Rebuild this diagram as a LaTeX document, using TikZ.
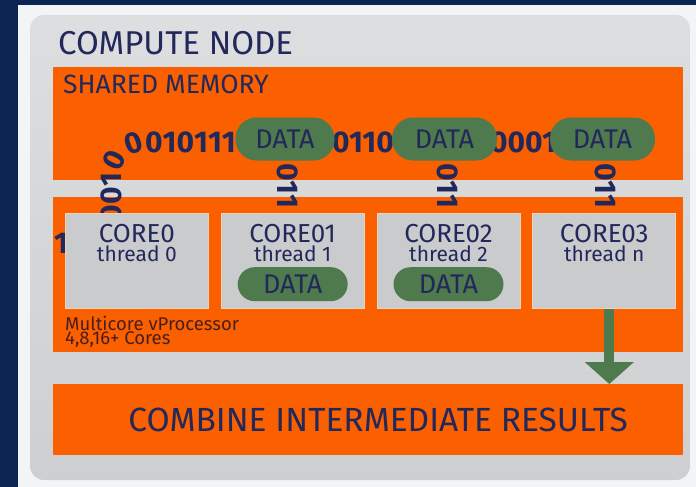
\documentclass[tikz,border=0pt]{standalone}
\usepackage{fontspec}
\setmainfont{Fira Sans}
\usetikzlibrary{positioning,arrows.meta,decorations.text}

\definecolor{navybg}{HTML}{0B2552}
\definecolor{paper}{HTML}{F3F4F6}
\definecolor{paneltop}{HTML}{DDDEE0}
\definecolor{panelbot}{HTML}{CDCFD1}
\definecolor{cnorange}{HTML}{FA6000}
\definecolor{coregray}{HTML}{CACBCD}
\definecolor{coreedge}{HTML}{EFD2BE}
\definecolor{pillgreen}{HTML}{4E7A4E}
\definecolor{ink}{HTML}{23285A}
\definecolor{brownink}{HTML}{4B1E1C}

\newcommand{\bitfont}{\bfseries\fontsize{30}{30}\selectfont}
\newcommand{\datafont}{\fontsize{27}{27}\selectfont}

\begin{document}
\begin{tikzpicture}[x=1pt,y=-1pt,
  orangebox/.style={fill=cnorange,draw=none,inner sep=0pt,anchor=north west},
  corebox/.style={fill=coregray,draw=coreedge,line width=0.8pt,inner sep=0pt,
    minimum width=143pt,minimum height=95pt},
  corename/.style={text=ink,inner sep=0pt,anchor=base,font=\fontsize{26}{26}\selectfont},
  threadname/.style={text=ink,inner sep=0pt,anchor=base,font=\fontsize{21}{21}\selectfont},
  datapill/.style={fill=pillgreen,rounded corners=17pt,inner sep=0pt,
    text=ink,font=\datafont},
  bits/.style={text=ink,font=\bitfont,inner sep=0pt},
  bitsdown/.style={bits,rotate=-90,anchor=west},
]
  \useasboundingbox (0,0) rectangle (696,487);
  \fill[navybg] (0,0) rectangle (696,487); %Background
  \fill[paper] (18,5) rectangle (696,487); %Page
  \shade[top color=paneltop,bottom color=panelbot,rounded corners=14pt]
    (30,15) rectangle (690,480); %Gray panel

  \node[text=ink,anchor=base west,inner sep=0pt,font=\fontsize{33}{33}\selectfont] (title) at (58,55) {COMPUTE NODE};

  % orange blocks
  \node[orangebox,minimum width=630pt,minimum height=113pt] (shared) at (53,67) {};
  \node[orangebox,minimum width=630pt,minimum height=155pt] (proc) at (53,197) {};
  \node[orangebox,minimum width=630pt,minimum height=71pt] (combine) at (53,384) {};

  \node[text=ink,anchor=base west,inner sep=0pt,font=\fontsize{26.5}{26.5}\selectfont] (sharedlabel) at (63,93) {SHARED MEMORY};
  \node[text=brownink,anchor=north west,align=left,inner sep=0pt,
    font=\fontsize{18.5}{14}\selectfont] (proclabel) at (65,316) {Multicore vProcessor\\4,8,16+ Cores};
  \node[text=ink,font=\fontsize{33.5}{33.5}\selectfont,xshift=10pt] (combinelabel) at (combine.center) {COMBINE INTERMEDIATE RESULTS};

  % bit stream
  \path[decorate,decoration={text along path,text={|\color{ink}\bitfont|001000101110110},text align=left},
    rounded corners=22pt] (121.5,222) -- (121.5,152) -- (300,152);
  \node[bits] (bitone) at (61,243) {1};
  \node[bits,anchor=base] (bitsA) at (363,152) {0110};
  \node[bits,anchor=base] (bitsB) at (523,152) {0001};

  % data on the bus
  \node[datapill,rounded corners=21pt,minimum width=99pt,minimum height=43pt] (busA) at (285,139) {DATA};
  \node[datapill,rounded corners=21pt,minimum width=105pt,minimum height=43pt] (busB) at (444.5,139) {DATA};
  \node[datapill,rounded corners=21pt,minimum width=105pt,minimum height=43pt] (busC) at (602.5,139) {DATA};
  \node[bitsdown] (downA) at ([xshift=3pt,yshift=-3pt]busA.south) {011};
  \node[bitsdown] (downB) at ([xshift=3pt,yshift=-3pt]busB.south) {011};
  \node[bitsdown] (downC) at ([xshift=3pt,yshift=-3pt]busC.south) {011};

  % cores
  \node[corebox,anchor=north west] (core0) at (65,213) {};
  \node[corebox,right=12pt of core0] (core1) {};
  \node[corebox,right=12pt of core1] (core2) {};
  \node[corebox,right=12pt of core2] (core3) {};
  \node[corename] at ([yshift=-29pt]core0.north) {CORE0};
  \node[corename] at ([yshift=-29pt]core1.north) {CORE01};
  \node[corename] at ([yshift=-29pt]core2.north) {CORE02};
  \node[corename] at ([yshift=-29pt]core3.north) {CORE03};
  \node[threadname] at ([yshift=-48pt]core0.north) {thread 0};
  \node[threadname] at ([yshift=-48pt]core1.north) {thread 1};
  \node[threadname] at ([yshift=-48pt]core2.north) {thread 2};
  \node[threadname] at ([yshift=-48pt]core3.north) {thread n};
  \node[datapill,minimum width=110pt,minimum height=34pt,below=54pt of core1.north] (local1) {DATA};
  \node[datapill,minimum width=110pt,minimum height=34pt,below=54pt of core2.north] (local2) {DATA};

  % result arrow
  \draw[pillgreen,line width=10pt,-{Triangle[width=48pt,length=22pt]}]
    ([xshift=5pt]core3.south) -- ([xshift=5pt]core3.south |- combine.north);
\end{tikzpicture}
\end{document}
